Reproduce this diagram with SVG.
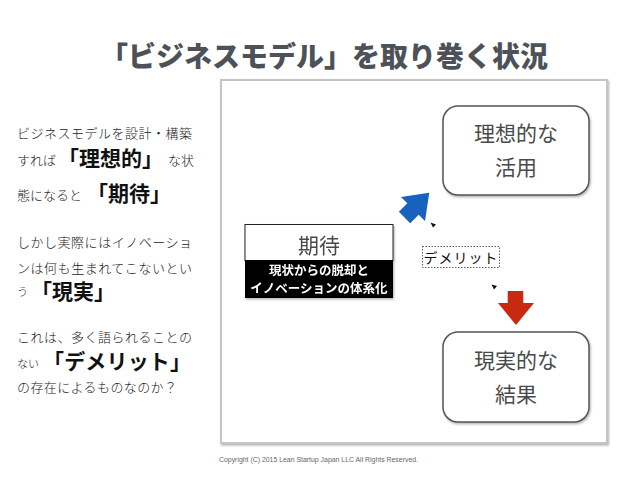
<svg xmlns="http://www.w3.org/2000/svg" width="638" height="479" viewBox="0 0 638 479">
<style>
.title{font-family:"Noto Sans CJK JP",sans-serif;font-weight:900;font-size:28px;fill:#4d5259}
.body{font-family:"Noto Sans CJK JP",sans-serif;font-size:13px;font-weight:300;fill:#222}
.big{font-family:"Noto Sans CJK JP",sans-serif;font-size:21px;font-weight:bold;fill:#111}
.small{font-family:"Noto Sans CJK JP",sans-serif;font-size:11px;font-weight:300;fill:#222}
.node{fill:#fff;stroke:#555;stroke-width:1.5}
.ntext{font-family:"Noto Sans CJK JP",sans-serif;font-size:21px;fill:#4a4a4a;text-anchor:middle}
.wtext{font-family:"Noto Sans CJK JP",sans-serif;font-size:12.5px;font-weight:bold;fill:#fff;text-anchor:middle}
.copy{font-family:"Liberation Sans",sans-serif;font-size:7.3px;fill:#666}
</style>
<defs>
<filter id="sh" x="-10%" y="-10%" width="130%" height="130%">
<feDropShadow dx="1" dy="1.5" stdDeviation="1.2" flood-color="#000" flood-opacity="0.3"/>
</filter>
</defs>
<rect width="638" height="479" fill="#fff"/>
<text class="title" x="324" y="67" text-anchor="middle">「ビジネスモデル」を取り巻く状況</text>

<g id="left-text">
<text class="body" x="17" y="138" textLength="175" lengthAdjust="spacing">ビジネスモデルを設計・構築</text>
<text class="body" x="17" y="165">すれば</text>
<text class="big" x="58" y="166">「理想的」</text>
<text class="body" x="168" y="165">な状</text>
<text class="body" x="17" y="200">態になると</text>
<text class="big" x="87" y="201">「期待」</text>
<text class="body" x="17" y="247" textLength="175" lengthAdjust="spacing">しかし実際にはイノベーショ</text>
<text class="body" x="17" y="272.5" textLength="175" lengthAdjust="spacing">ンは何も生まれてこないとい</text>
<text class="small" x="17" y="296">う</text>
<text class="big" x="31" y="298.5" font-size="19.5">「現実」</text>
<text class="body" x="17" y="342" textLength="175" lengthAdjust="spacing">これは、多く語られることの</text>
<text class="small" x="17" y="368">ない</text>
<text class="big" x="43" y="369" textLength="148" lengthAdjust="spacing">「デメリット」</text>
<text class="body" x="17" y="392" textLength="160" lengthAdjust="spacing">の存在によるものなのか？</text>
</g>

<rect id="frame" x="221" y="80" width="386" height="363" fill="#fff" stroke="#c4c4c4" stroke-width="2" filter="url(#sh)"/>

<g id="node-ideal">
<rect class="node" x="443" y="106" width="146" height="89" rx="15" filter="url(#sh)"/>
<text class="ntext" x="516" y="141">理想的な</text>
<text class="ntext" x="516" y="175">活用</text>
</g>

<g id="node-real">
<rect class="node" x="443" y="332" width="146" height="90" rx="15" filter="url(#sh)"/>
<text class="ntext" x="516" y="368" font-size="22">現実的な</text>
<text class="ntext" x="516" y="402" font-size="22">結果</text>
</g>

<g id="node-expect" filter="url(#sh)">
<rect x="245" y="224.5" width="148" height="36" fill="#fff" stroke="#222" stroke-width="1"/>
<rect x="245" y="260" width="148" height="38" fill="#000"/>
<text class="ntext" x="319" y="252.5" font-size="24" fill="#555">期待</text>
<text class="wtext" x="319" y="275">現状からの脱却と</text>
<text class="wtext" x="319" y="292.5">イノベーションの体系化</text>
</g>

<g id="node-demerit">
<rect x="422.5" y="246.5" width="77" height="21" fill="#fff" stroke="#333" stroke-width="0.8" stroke-dasharray="1.5 1.5"/>
<text x="461" y="262.5" text-anchor="middle" font-family="'Noto Sans CJK JP',sans-serif" font-size="14" fill="#111" letter-spacing="1">デメリット</text>
</g>

<g id="connectors">
<polygon points="0,-23 17,0 8,0 8,12 -8,12 -8,0 -17,0" fill="#1662be" transform="translate(413,209) rotate(45)"/>
<polygon points="507.7,291 523.3,291 523.3,303 534,303 516,325 498,303 507.7,303" fill="#c8290f"/>
<polygon points="430.5,222.5 436,224.5 433,227.5" fill="#111"/>
<polygon points="491.5,284.5 497,286 494,289.5" fill="#111"/>
</g>

<text class="copy" x="219" y="462" textLength="199" lengthAdjust="spacingAndGlyphs">Copyright (C) 2015 Lean Startup Japan LLC All Rights Reserved.</text>
</svg>
